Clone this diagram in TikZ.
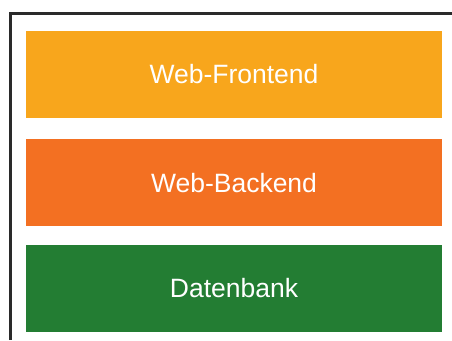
\documentclass[tikz,border=0pt]{standalone}
\usepackage{fontspec}
\setmainfont{Liberation Sans}
\usetikzlibrary{positioning}
\definecolor{frontorange}{HTML}{F8A61C}
\definecolor{backorange}{HTML}{F37022}
\definecolor{dbgreen}{HTML}{237D33}
\definecolor{rahmen}{HTML}{2A2A2A}
\tikzstyle{schicht}=[rectangle, minimum width=416pt, minimum height=87pt, inner sep=0pt, text=white, font=\fontsize{26.5}{31}\selectfont]

\begin{document}
\begin{tikzpicture}[x=1pt, y=1pt]
        \useasboundingbox (0,0) rectangle (452,340);

        % Rahmen
        \draw[line width=3pt, rahmen] (10.5,0) -- (10.5,326.5) -- (452,326.5);

        % Schichten
        \node[schicht, fill=frontorange] (frontend) at (234,265.5) {Web-Frontend};
        \node[schicht, fill=backorange, below=21pt of frontend] (backend) {Web-Backend};
        \node[schicht, fill=dbgreen, below=18pt of backend] (datenbank) {Datenbank};
    \end{tikzpicture}
\end{document}
